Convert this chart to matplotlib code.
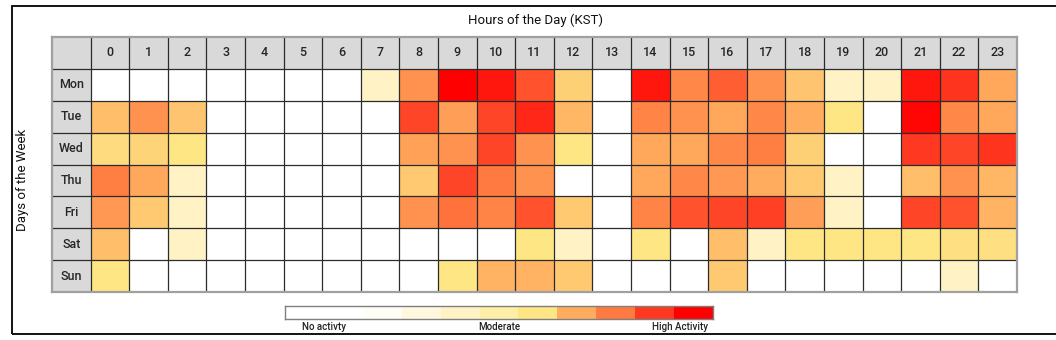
import matplotlib
matplotlib.use('Agg')
import matplotlib.pyplot as plt
from matplotlib.colors import LinearSegmentedColormap
from matplotlib.patches import Rectangle
import numpy as np

days = ['Mon', 'Tue', 'Wed', 'Thu', 'Fri', 'Sat', 'Sun']
hours = [str(h) for h in range(24)]

# activity level per hour (0 = none, 10 = highest)
mon = [0, 0, 0, 0, 0, 0, 0, 4, 7.5, 10, 9.6, 8.6, 6.4, 0, 9.6, 7.7, 8.4, 7.5, 6.6, 4, 4, 9.6, 9.1, 7.1]
tue = [6.7, 7.5, 6.6, 0, 0, 0, 0, 0, 8.8, 7.3, 8.8, 9.3, 6.8, 0, 7.8, 7.5, 7.1, 7.7, 7.0, 6, 0, 9.9, 7.7, 7.1]
wed = [6.2, 6.3, 6.0, 0, 0, 0, 0, 0, 7.2, 7.5, 8.8, 7.5, 6.0, 0, 7.1, 7.1, 7.7, 7.9, 6.4, 0, 0, 9.0, 8.8, 9.1]
thu = [7.9, 7.1, 4, 0, 0, 0, 0, 0, 6.5, 8.8, 8.0, 7.5, 0, 0, 7.1, 7.7, 7.4, 7.0, 6.5, 4, 0, 6.7, 7.5, 6.8]
fri = [7.4, 6.5, 4, 0, 0, 0, 0, 0, 7.5, 8.1, 7.8, 8.6, 6.5, 0, 7.8, 8.6, 8.8, 8.9, 7.3, 4, 0, 8.8, 8.6, 6.9]
sat = [6.7, 0, 4, 0, 0, 0, 0, 0, 0, 0, 0, 6, 4, 0, 6, 0, 6.7, 4, 6, 6, 6, 6, 6.1, 6.1]
sun = [6, 0, 0, 0, 0, 0, 0, 0, 0, 6, 6.9, 6.9, 6.5, 0, 0, 0, 6.5, 0, 0, 0, 0, 0, 4, 0]

legend_levels = [0, 1, 2, 3, 4, 5, 6, 7, 8, 9, 10]
legend_colors = ['#FFFFFF', '#FFFFFF', '#FFFDF6', '#FFF8DF', '#FFF3C6', '#FFEEA6',
                 '#FEE685', '#FFAD5F', '#FF7A40', '#FF3A22', '#FF0000']
legend_labels = ['No activty', 'Moderate', 'High Activity']
legend_label_pos = [1.0, 5.5, 10.15]

title = 'Hours of the Day (KST)'
ylabel = 'Days of the Week'

plt.rcParams['font.family'] = ['Roboto', 'DejaVu Sans']

data = np.array([mon, tue, wed, thu, fri, sat, sun])
cmap = LinearSegmentedColormap.from_list(
    'act', [(l / 10, c) for l, c in zip(legend_levels, legend_colors)])

W, H = 1056, 340
fig = plt.figure(figsize=(W / 100, H / 100), dpi=100)


def fx(px):
    return px / W


def fy(py):
    return 1 - py / H


# outer frame
fig.patches.append(Rectangle((fx(12), fy(334)), 1.2 - fx(12), fy(6) - fy(334),
                             transform=fig.transFigure, fill=False,
                             ec='black', lw=1.3))

# heatmap table
ax = fig.add_axes([fx(52), fy(292), fx(1017) - fx(52), fy(37) - fy(292)])
ax.set_xlim(-1, len(hours))
ax.set_ylim(len(days), -1)
ax.axhspan(-1, 0, color='#D9D9D9', lw=0)
ax.axvspan(-1, 0, color='#D9D9D9', lw=0)
ax.pcolormesh(np.arange(len(hours) + 1), np.arange(len(days) + 1), data,
              cmap=cmap, vmin=0, vmax=10)
ax.vlines(np.arange(0, len(hours)), -1, len(days), color='#2b2b2b', lw=0.9)
ax.hlines(np.arange(0, len(days)), -1, len(hours), color='#2b2b2b', lw=0.9)
for s in ax.spines.values():
    s.set_color('#A0A0A0')
    s.set_linewidth(1.6)
ax.set_xticks([])
ax.set_yticks([])
for i, h in enumerate(hours):
    ax.text(i + 0.5, -0.5, h, ha='center', va='center', fontsize=9,
            fontweight='medium', color='#262626')
for j, d in enumerate(days):
    ax.text(-0.5, j + 0.5, d, ha='center', va='center', fontsize=9,
            fontweight='medium', color='#262626')

fig.text(fx(535), fy(20), title, ha='center', va='center', fontsize=9.5, color='#111111')
fig.text(fx(23), fy(180), ylabel, ha='center', va='center', rotation=90,
         fontsize=9.5, color='#111111')

# legend bar
lax = fig.add_axes([fx(285), fy(319), fx(713) - fx(285), fy(306) - fy(319)])
lax.pcolormesh(np.arange(len(legend_levels) + 1), [0, 1], [legend_levels],
               cmap=cmap, vmin=0, vmax=10)
lax.set_xlim(0, len(legend_levels))
lax.set_ylim(0, 1)
lax.set_xticks([])
lax.set_yticks([])
for s in lax.spines.values():
    s.set_color('#7F7F7F')
    s.set_linewidth(1.0)
for lbl, pos in zip(legend_labels, legend_label_pos):
    lax.text(pos, -0.6, lbl, ha='center', va='center', fontsize=7,
             fontweight='medium', color='#222222')

fig.savefig('out.png', dpi=100)
